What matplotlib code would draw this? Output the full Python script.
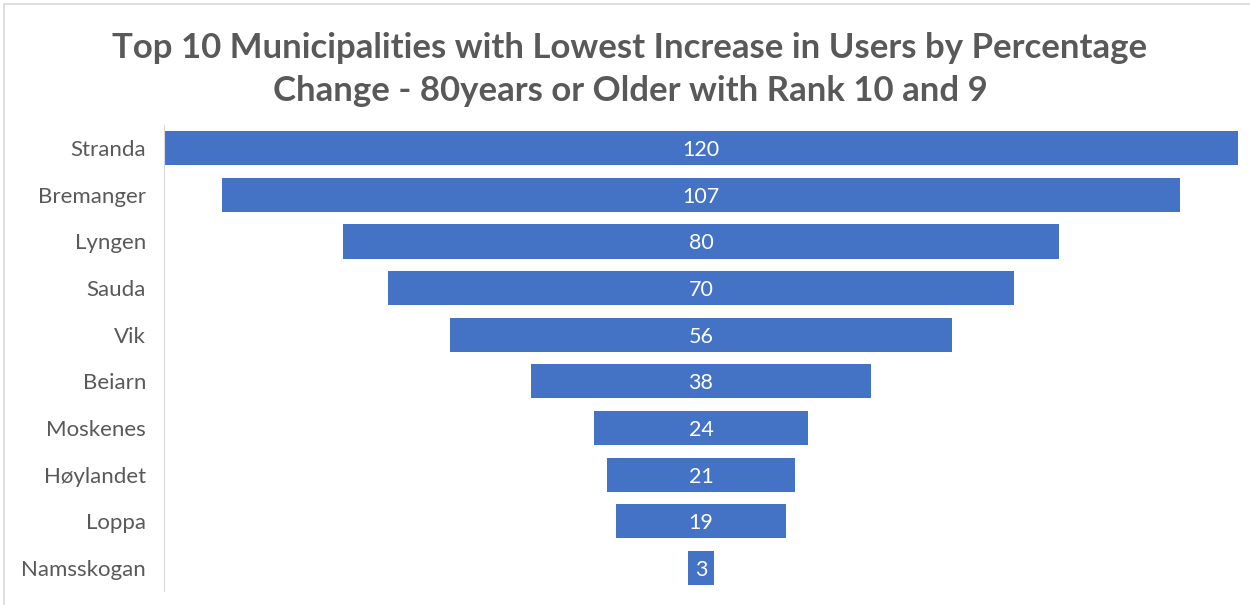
import matplotlib.pyplot as plt
from matplotlib.patches import Rectangle

municipalities = ["Stranda", "Bremanger", "Lyngen", "Sauda", "Vik",
                  "Beiarn", "Moskenes", "Høylandet", "Loppa", "Namsskogan"]
values = [120, 107, 80, 70, 56, 38, 24, 21, 19, 3]

title = ("Top 10 Municipalities with Lowest Increase in Users by Percentage\n"
         "Change - 80years or Older with Rank 10 and 9")

plt.rcParams["font.family"] = ["Lato", "DejaVu Sans"]

fig = plt.figure(figsize=(12.5, 6.05), dpi=100)
ax = fig.add_axes([0.1312, 0.0226, 0.8592, 0.771])

# funnel: bars centred on zero
lefts = [-v / 2 for v in values]
ypos = list(range(len(values)))
ax.barh(ypos, values, left=lefts, height=0.73, color="#4472C4")

for y, v in zip(ypos, values):
    ax.text(0, y + 0.04, str(v), ha="center", va="center", color="white", fontsize=15.5)

ax.set_xlim(-60, 60)
ax.set_ylim(len(values) - 0.5, -0.5)
ax.set_yticks(ypos)
ax.set_yticklabels(municipalities, fontsize=16, color="#595959")
ax.set_xticks([])
ax.tick_params(axis="y", length=0, pad=13)
for side in ["top", "right", "bottom"]:
    ax.spines[side].set_visible(False)
ax.spines["left"].set_color("#D9D9D9")

fig.text(0.504, 0.885, title, ha="center", va="center", fontsize=25,
         fontweight="bold", color="#595959", linespacing=1.45)

# light chart frame
fig.patches.append(Rectangle((0.003, -0.01), 1.2, 1.004, transform=fig.transFigure,
                             fill=False, edgecolor="#D9D9D9", linewidth=1.2))

fig.savefig("out.png", dpi=100)
